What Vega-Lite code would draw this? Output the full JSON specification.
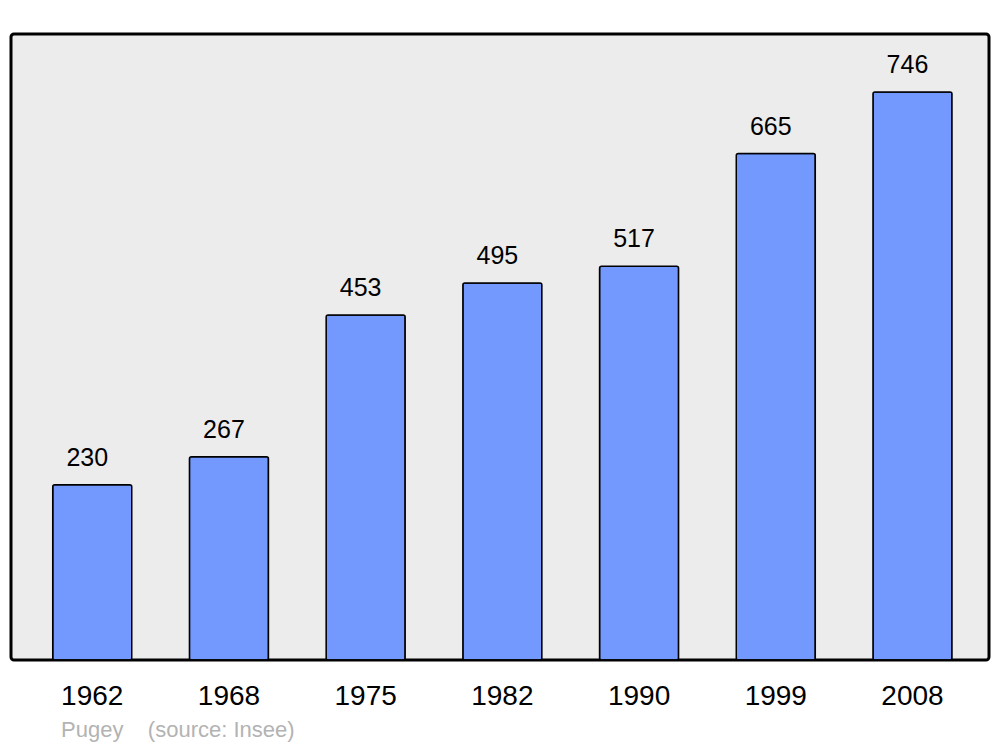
{
  "$schema": "https://vega.github.io/schema/vega-lite/v6.json",
  "width": 978,
  "height": 626,
  "autosize": {"type": "none"},
  "padding": {"left": 11, "top": 34, "right": 11, "bottom": 87},
  "background": "white",
  "config": {
    "view": {"fill": "#ececec", "stroke": "black", "strokeWidth": 3, "cornerRadius": 3},
    "font": "Liberation Sans"
  },
  "title": {
    "text": "Pugey\u00a0\u00a0\u00a0\u00a0(source: Insee)",
    "orient": "bottom",
    "anchor": "start",
    "fontSize": 22,
    "font": "Liberation Sans",
    "fontWeight": "normal",
    "color": "#b3b3b3",
    "dx": 50,
    "offset": 10
  },
  "data": {
    "values": [
      {"year": "1962", "pop": 230},
      {"year": "1968", "pop": 267},
      {"year": "1975", "pop": 453},
      {"year": "1982", "pop": 495},
      {"year": "1990", "pop": 517},
      {"year": "1999", "pop": 665},
      {"year": "2008", "pop": 746}
    ]
  },
  "encoding": {
    "x": {
      "field": "year",
      "type": "ordinal",
      "scale": {"paddingInner": 0.422, "paddingOuter": 0.288, "align": 0.53},
      "axis": {
        "title": null,
        "domain": false,
        "ticks": false,
        "labelAngle": 0,
        "labelFontSize": 28,
        "labelColor": "black",
        "labelFont": "Liberation Sans",
        "labelBaseline": "alphabetic",
        "labelPadding": 44
      }
    },
    "y": {
      "field": "pop",
      "type": "quantitative",
      "scale": {"domain": [0, 822], "nice": false},
      "axis": null
    }
  },
  "layer": [
    {"mark": {"type": "bar", "fill": "#7399ff", "stroke": "black", "strokeWidth": 1.5, "cornerRadius": 2}},
    {
      "mark": {"type": "text", "dy": -19, "dx": -5, "baseline": "alphabetic", "fontSize": 25, "font": "Liberation Sans", "color": "black"},
      "encoding": {"text": {"field": "pop"}}
    }
  ]
}
